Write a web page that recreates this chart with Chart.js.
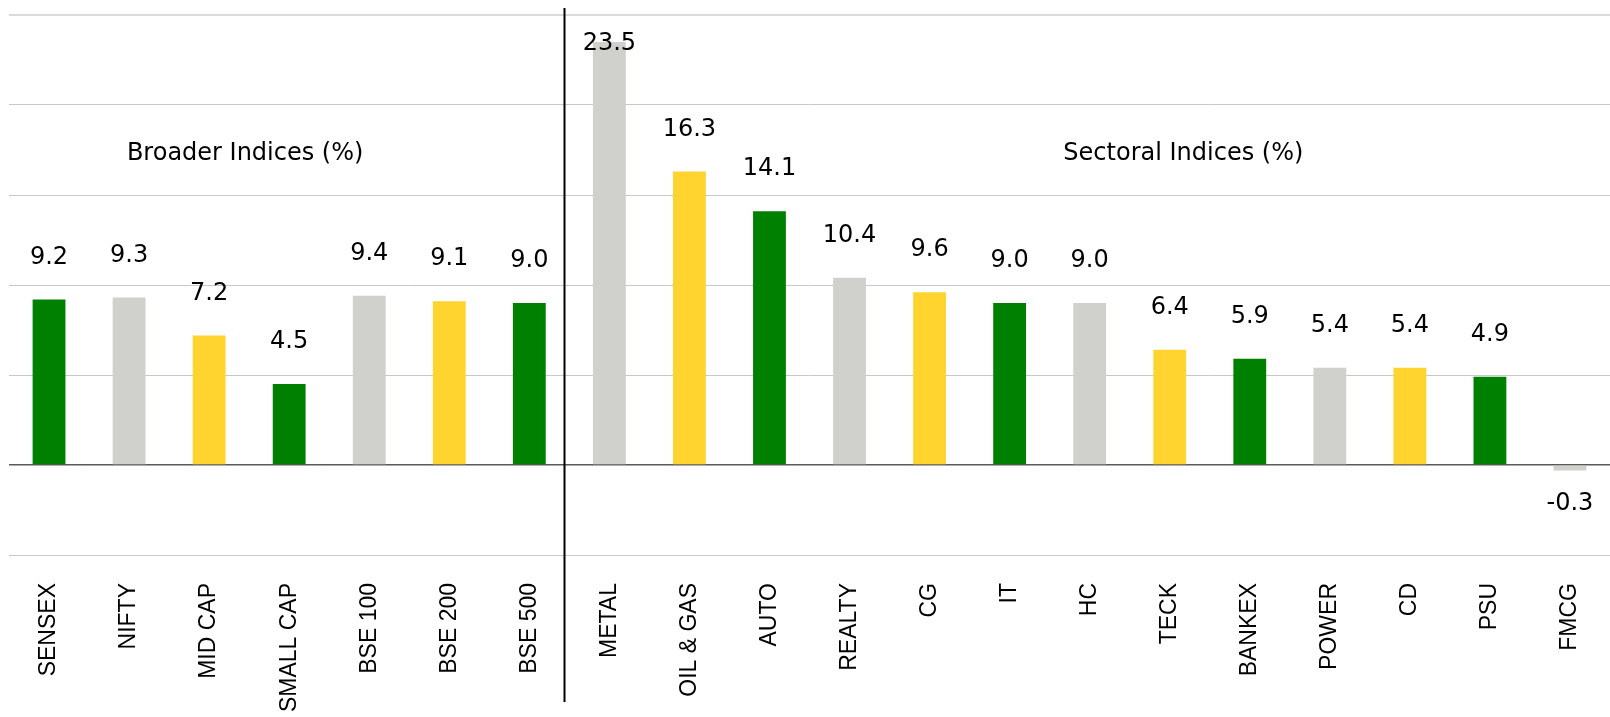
<!DOCTYPE html>
<html>
<head>
<meta charset="utf-8">
<script src="https://cdn.jsdelivr.net/npm/chart.js@4.4.1/dist/chart.umd.min.js"></script>
<style>
  html, body { margin: 0; padding: 0; background: #fff; }
  #wrap { width: 1610px; height: 717px; }
</style>
</head>
<body>
<div id="wrap"><canvas id="chart"></canvas></div>
<script>
// Index returns (%) - broader indices first, then sectoral
const CATEGORIES = [
  'SENSEX', 'NIFTY', 'MID CAP', 'SMALL CAP', 'BSE 100', 'BSE 200', 'BSE 500',
  'METAL', 'OIL & GAS', 'AUTO', 'REALTY', 'CG', 'IT', 'HC', 'TECK',
  'BANKEX', 'POWER', 'CD', 'PSU', 'FMCG',
];
const RETURNS = [
  9.2, 9.3, 7.2, 4.5, 9.4, 9.1, 9.0,
  23.5, 16.3, 14.1, 10.4, 9.6, 9.0, 9.0, 6.4,
  5.9, 5.4, 5.4, 4.9, -0.3,
];
const GROUP_TITLES = ['Broader Indices (%)', 'Sectoral Indices (%)'];
const Y_MIN = -5;
const Y_MAX = 25;
const Y_STEP = 5;

// Farbfolge wiederholt sich: grün, grau, gelb
const BAR_COLORS = ['#008000', '#d0d1cc', '#ffd42f'];

const overlay = {
  id: 'overlay',
  afterDatasetsDraw(chart) {
    const { ctx, chartArea, scales: { x, y } } = chart;
    const meta = chart.getDatasetMeta(0);
    ctx.save();
    ctx.fillStyle = '#000';
    ctx.textAlign = 'center';
    ctx.textBaseline = 'middle';

    // Wertbeschriftungen
    ctx.font = '24px "DejaVu Sans"';
    meta.data.forEach((bar, i) => {
      const v = RETURNS[i];
      const ty = v >= 0 ? Math.max(bar.y - 42, chartArea.top + 29) : bar.y + 33;
      ctx.fillText(v.toFixed(1), bar.x, ty);
    });

    // Gruppentitel
    ctx.fillText(GROUP_TITLES[0], x.getPixelForValue(2.45), y.getPixelForValue(17.3));
    ctx.fillText(GROUP_TITLES[1], x.getPixelForValue(14.17), y.getPixelForValue(17.3));

    // Trennlinie zwischen den Gruppen
    const sx = Math.round(x.getPixelForValue(6.43)) + 0.5;
    ctx.strokeStyle = '#000';
    ctx.lineWidth = 2;
    ctx.beginPath();
    ctx.moveTo(sx, chartArea.top - 7);
    ctx.lineTo(sx, chartArea.bottom + 147);
    ctx.stroke();
    ctx.restore();
  },
};

new Chart(document.getElementById('chart'), {
  type: 'bar',
  data: {
    labels: CATEGORIES,
    datasets: [{
      data: RETURNS,
      backgroundColor: RETURNS.map((_, i) => BAR_COLORS[i % 3]),
      borderWidth: 0,
      barPercentage: 0.41,
      categoryPercentage: 1,
    }],
  },
  options: {
    responsive: true,
    maintainAspectRatio: false,
    animation: false,
    layout: { padding: { left: 9, right: 0, top: 15, bottom: 0 } },
    plugins: {
      legend: { display: false },
      tooltip: { enabled: false },
    },
    scales: {
      x: {
        grid: { display: false, drawTicks: false },
        border: { display: false },
        ticks: {
          minRotation: 90,
          maxRotation: 90,
          autoSkip: false,
          padding: 28,
          color: '#000',
          font: { family: '"Liberation Sans", Arial, sans-serif', size: 23 },
        },
        afterFit: scale => {
          scale.height = 162;
          scale.paddingLeft = 0;
          scale.paddingRight = 0;
        },
      },
      y: {
        min: Y_MIN,
        max: Y_MAX,
        ticks: { display: false, stepSize: Y_STEP },
        border: { display: false },
        grid: {
          drawTicks: false,
          color: ctx => ctx.tick.value === 0 ? '#5a5a5a' : (ctx.tick.value === Y_MAX ? '#dadada' : '#c8c8c8'),
          lineWidth: ctx => ctx.tick.value === 0 ? 1.5 : (ctx.tick.value === Y_MAX ? 2 : 1),
        },
      },
    },
  },
  plugins: [overlay],
});
</script>
</body>
</html>
